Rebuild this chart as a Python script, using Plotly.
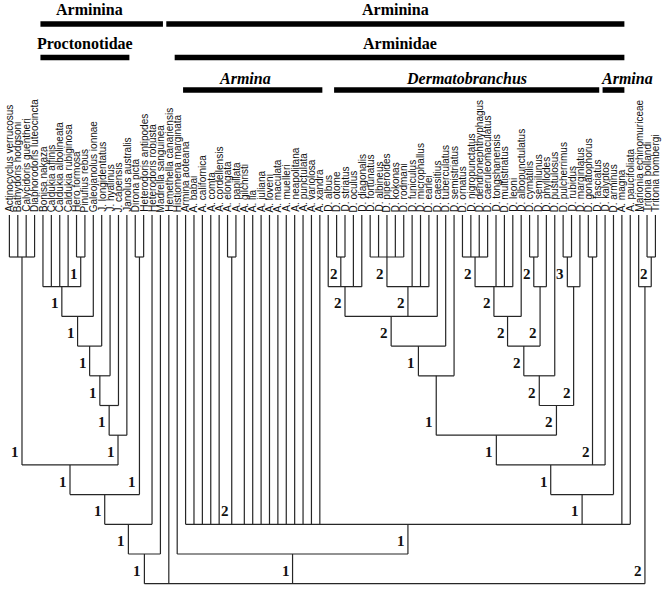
import plotly.graph_objects as go

# ---------------- data ----------------
taxa = [
    "Actinocyclus verrucosus", "Bathydoris hodgsoni", "Calycidoris guentheri", "Diaphorodoris luteocincta",
    "Bonisa nakaza", "Caldukia affinis", "Caldukia albolineata", "Caldukia rubiginosa", "Hero formosa", "Pinufius rebus",
    "Galeojanolus ionnae", "J. longidentatus", "J. hyalinus", "J. capensis", "Janolus australis",
    "Dirona picta", "Heterodoris antipodes", "Heterodoris robusta", "Madrella sanguinea", "Hemethella canariensis",
    "Histiomena marginata", "Armina aoteana", "A. babai", "A. californica", "A. comta", "A. cordellensis", "A. elongata",
    "A. papillata", "A. gilchristi", "A. lia", "A. juliana", "A. loveni", "A. maculata", "A. muelleri", "A. neapolitana",
    "A. punctulata", "A. variolosa", "A. xandra",
    "D. albus", "D. otome", "D. striatus", "D. oculus", "D. diagonalis", "D. fortunatus", "D. albineus", "D. piperoides",
    "D. kokonas", "D. rodmani", "D. funiculus", "D. microphallus", "D. earlei", "D. caesitius", "D. tuberculatus",
    "D. semistriatus", "D. ornatus", "D. nigropunctatus", "D. dendronephthyphagus", "D. caeruleomaculatus",
    "D. tongshanensis", "D. multistriatus", "D. leoni", "D. albopunctulatus", "D. cymatilis", "D. semilunus",
    "D. phyllodes", "D. pustulosus", "D. pulcherrimus", "D. rubidus", "D. marginlatus", "D. gonatophorus",
    "D. fasciatus", "D. kalyptos", "D. arminus", "A. magna", "A. paucifoliata", "Marionia echinomuriceae",
    "Tritonia bollandi", "Tritonia hombergi",
]

# internal nodes (children listed before parents)
node_names = [
    "out", "pr_a", "pr_b", "pr_c", "pr_d", "pr_e", "pr_f", "pr_g", "b8", "dh", "b9", "b10", "b11",
    "ap1",
    "d1", "d2", "d3a", "d3b", "d3", "d4", "d5",
    "e1", "e2", "e3", "f1", "f2", "e4", "e5", "g1", "g2", "e6", "d7", "h1", "d8", "d9",
    "armp", "arm", "t1", "trit", "root",
]
node_levels = [
    1, 1, 2, 3, 4, 5, 6, 7, 8, 1, 9, 10, 11,
    1,
    1, 2, 1, 2, 3, 4, 5,
    1, 2, 3, 1, 2, 4, 5, 1, 2, 6, 7, 1, 8, 9,
    10, 11, 1, 2, 12,
]
node_support = [
    "1", "1", "1", "1", "1", "1", "1", "1", "1", "1", "1", "1", "1",
    "2",
    "2", "2", "2", "2", "2", "1", "1",
    "2", "2", "2", "2", "2", "2", "2", "3", "2", "2", "1", "2", "1", "1",
    "1", "1", "2", "2", "",
]
node_children = [
    ["Actinocyclus verrucosus", "Bathydoris hodgsoni", "Calycidoris guentheri", "Diaphorodoris luteocincta"],
    ["Hero formosa", "Pinufius rebus"],
    ["Bonisa nakaza", "Caldukia affinis", "Caldukia albolineata", "Caldukia rubiginosa", "pr_a"],
    ["pr_b", "Galeojanolus ionnae"],
    ["pr_c", "J. longidentatus"],
    ["pr_d", "J. hyalinus"],
    ["pr_e", "J. capensis"],
    ["pr_f", "Janolus australis"],
    ["out", "pr_g"],
    ["Dirona picta", "Heterodoris antipodes"],
    ["b8", "dh"],
    ["b9", "Heterodoris robusta"],
    ["b10", "Madrella sanguinea"],
    ["A. elongata", "A. papillata"],
    ["D. otome", "D. striatus"],
    ["D. albus", "d1", "D. oculus", "D. diagonalis"],
    ["D. fortunatus", "D. albineus", "D. piperoides", "D. kokonas", "D. rodmani"],
    ["d3a", "D. funiculus", "D. microphallus", "D. earlei"],
    ["d2", "d3b", "D. caesitius"],
    ["d3", "D. tuberculatus"],
    ["d4", "D. semistriatus"],
    ["D. ornatus", "D. nigropunctatus", "D. dendronephthyphagus", "D. caeruleomaculatus"],
    ["e1", "D. tongshanensis", "D. multistriatus", "D. leoni"],
    ["e2", "D. albopunctulatus"],
    ["D. cymatilis", "D. semilunus"],
    ["f1", "D. phyllodes"],
    ["e3", "f2"],
    ["e4", "D. pustulosus"],
    ["D. pulcherrimus", "D. rubidus"],
    ["g1", "D. marginlatus"],
    ["e5", "g2"],
    ["d5", "e6"],
    ["D. gonatophorus", "D. fasciatus"],
    ["d7", "h1", "D. kalyptos"],
    ["d8", "D. arminus"],
    ["Armina aoteana", "A. babai", "A. californica", "A. comta", "A. cordellensis", "ap1",
     "A. gilchristi", "A. lia", "A. juliana", "A. loveni", "A. maculata", "A. muelleri", "A. neapolitana",
     "A. punctulata", "A. variolosa", "A. xandra", "d9", "A. magna", "A. paucifoliata"],
    ["Histiomena marginata", "armp"],
    ["Tritonia bollandi", "Tritonia hombergi"],
    ["Marionia echinomuriceae", "t1"],
    ["b11", "Hemethella canariensis", "arm", "trit"],
]

# clade bars above the tree
bar_labels = ["Arminina", "Arminina", "Proctonotidae", "Arminidae", "Armina", "Dermatobranchus", "Armina"]
bar_first = ["Bonisa nakaza", "Hemethella canariensis", "Bonisa nakaza", "Histiomena marginata",
             "Armina aoteana", "D. otome", "D. kalyptos"]
bar_last = ["Madrella sanguinea", "A. magna", "Janolus australis", "A. magna",
            "A. xandra", "D. fasciatus", "A. magna"]
bar_row = [0, 0, 1, 1, 2, 2, 2]
bar_italic = [False, False, False, False, True, True, True]

# ---------------- layout / style ----------------
bar_text_xshift = [-12, 0, 0, 0, -8, 0, 14]   # pixel nudges of the clade names
row_bar_px = [24, 57.5, 90]
row_text_px = [9.5, 43.5, 78]

X0_PX, DX_PX = 9.4, 8.39
Y0_PX, DY_PX = 227.3, 29.7
W, H = 666, 589


def px2x(p):
    return 1 + (p - X0_PX) / DX_PX


def px2y(p):
    return (p - Y0_PX) / DY_PX


TIP = px2y(215)

pos_x = {name: i + 1 for i, name in enumerate(taxa)}
lvl = {name: TIP for name in taxa}
parent_of = {}
for name, level, kids in zip(node_names, node_levels, node_children):
    xs = [pos_x[k] for k in kids]
    pos_x[name] = (min(xs) + max(xs)) / 2
    lvl[name] = level
    for k in kids:
        parent_of[k] = name

lx, ly = [], []
for name, level, kids in zip(node_names, node_levels, node_children):
    xs = [pos_x[k] for k in kids]
    lx += [min(xs), max(xs), None]
    ly += [level, level, None]
    for k in kids:
        lx += [pos_x[k], pos_x[k], None]
        ly += [lvl[k], level, None]

fig = go.Figure()
fig.add_trace(go.Scatter(x=lx, y=ly, mode="lines", line=dict(color="#262626", width=1.2),
                         hoverinfo="skip", showlegend=False))

annotations = []
for name in taxa:
    annotations.append(dict(x=pos_x[name], y=TIP, text=name, textangle=-90, showarrow=False,
                            xanchor="center", yanchor="bottom", yshift=1,
                            font=dict(family="Liberation Sans, Arial", size=10, color="#111")))
for name, sup in zip(node_names, node_support):
    if not sup or name not in parent_of:
        continue
    par = parent_of[name]
    annotations.append(dict(x=pos_x[name], y=lvl[par], text="<b>%s</b>" % sup, showarrow=False,
                            xanchor="right", yanchor="middle", xshift=-1, yshift=13,
                            font=dict(family="Liberation Serif, Times New Roman", size=15, color="#111")))

shapes = []
for lab, f, l, row, it, dx in zip(bar_labels, bar_first, bar_last, bar_row, bar_italic, bar_text_xshift):
    x0 = pos_x[f] - 0.3
    x1 = pos_x[l] + 0.3
    yb = row_bar_px[row]
    shapes.append(dict(type="rect", xref="x", yref="y", x0=x0, x1=x1,
                       y0=px2y(yb - 2.8), y1=px2y(yb + 2.8), fillcolor="black", line=dict(width=0)))
    txt = "<b><i>%s</i></b>" % lab if it else "<b>%s</b>" % lab
    annotations.append(dict(x=(x0 + x1) / 2, y=px2y(row_text_px[row]), text=txt, showarrow=False,
                            xanchor="center", yanchor="middle", xshift=dx,
                            font=dict(family="Liberation Serif, Times New Roman", size=16, color="black")))

fig.update_layout(
    width=W, height=H, margin=dict(l=0, r=0, t=0, b=0),
    paper_bgcolor="white", plot_bgcolor="white",
    xaxis=dict(range=[px2x(0), px2x(W)], visible=False, fixedrange=True),
    yaxis=dict(range=[px2y(H), px2y(0)], visible=False, fixedrange=True),
    annotations=annotations, shapes=shapes, showlegend=False,
)

fig.write_html("out.html",
               config={"displayModeBar": False, "staticPlot": True},
               post_script="document.body.style.margin='0px';document.body.style.overflow='hidden';")
